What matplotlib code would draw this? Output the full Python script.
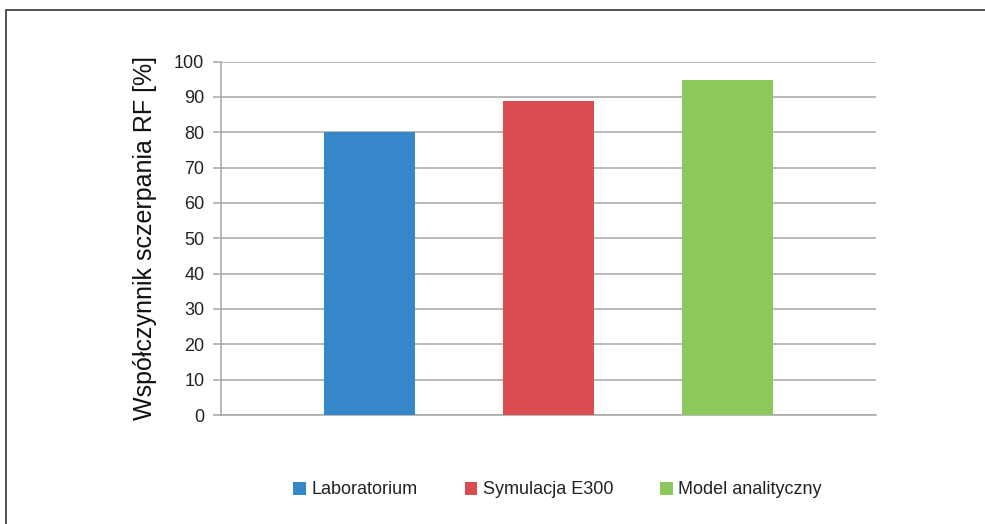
import numpy as np
import matplotlib.pyplot as plt
from matplotlib.patches import Rectangle

# recovery factor from three methods
series = ["Laboratorium", "Symulacja E300", "Model analityczny"]
rf = [80, 88.8, 94.8]
colors = ["#3587c9", "#d94c50", "#8dc85c"]
yticks = [0, 10, 20, 30, 40, 50, 60, 70, 80, 90, 100]

plt.rcParams['font.family'] = ['Liberation Sans', 'DejaVu Sans']

fig = plt.figure(figsize=(9.85, 5.24), dpi=100)
ax = fig.add_axes([221/985, 1-415/524, 655/985, 353.5/524])

x = np.arange(len(series))
for i in range(len(series)):
    ax.bar(x[i], rf[i], width=0.507, color=colors[i], label=series[i], zorder=3)

ax.set_xlim(-0.827, 2.827)
ax.set_ylim(0, 100)
ax.set_yticks(yticks)
ax.set_xticks([])
ax.grid(axis='y', color='#a6a6a6', linewidth=1.1, zorder=0)
for s in ['top', 'right']:
    ax.spines[s].set_visible(False)
ax.spines['left'].set_color('#a6a6a6')
ax.spines['bottom'].set_color('#a6a6a6')
ax.spines['left'].set_linewidth(1.1)
ax.spines['bottom'].set_linewidth(1.1)
ax.tick_params(axis='y', length=6, width=1.1, color='#a6a6a6', labelsize=13, labelcolor='#222222', pad=6)
ax.set_ylabel("Współczynnik sczerpania RF [%]", fontsize=18, color='#111111', labelpad=12)

fig.legend(loc='center', bbox_to_anchor=(0.566, 1-490/524), ncol=3, frameon=False,
           fontsize=13, handlelength=0.7, handleheight=0.7, handletextpad=0.3,
           columnspacing=2.6, labelcolor='#222222')

# frame around the whole chart
fig.patches.append(Rectangle((6/985, -0.1), 1.2, 1-10/524+0.1, transform=fig.transFigure,
                             fill=False, edgecolor='#333333', linewidth=1.2))

fig.savefig("out.png", dpi=100)
